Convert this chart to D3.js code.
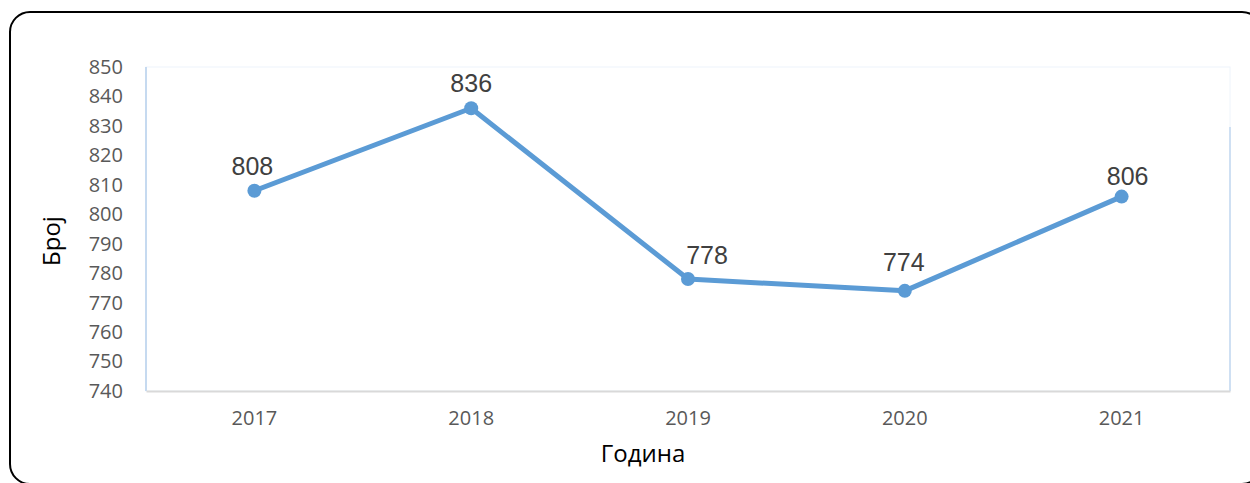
<!DOCTYPE html>
<html lang="sr">
<head>
<meta charset="UTF-8">
<script src="https://cdn.jsdelivr.net/npm/d3@7"></script>
<title>Број по години</title>
<style>
    body { margin: 0; background: #fff; }
    svg text { font-family: "Open Sans", sans-serif; }
</style>
</head>
<body>
<script>
    // data
    let years = ["2017", "2018", "2019", "2020", "2021"];
    let counts = [808, 836, 778, 774, 806];
    let yTicks = [740, 750, 760, 770, 780, 790, 800, 810, 820, 830, 840, 850];

    // label nudges (Excel places some labels a bit off-centre)
    var labelDx = [-2, 0, 19, -1, 6];
    var labelDy = [16, 16, 15, 20, 12];

    var width = 1250, height = 483;
    // plot area edges (don't use "top" - it's window.top)
    var plotL = 146, plotR = 1230, plotT = 67, plotB = 391;

    var svg = d3.select("body").append("svg")
        .attr("width", width)
        .attr("height", height);

    // outer rounded frame
    svg.append("rect")
        .attr("x", 10).attr("y", 12)
        .attr("width", 1252).attr("height", 472)
        .attr("rx", 20).attr("ry", 20)
        .attr("fill", "#fff")
        .attr("stroke", "#000")
        .attr("stroke-width", 2);

    var x = d3.scaleBand().domain(years).range([plotL, plotR]);
    var y = d3.scaleLinear().domain([740, 850]).range([plotB, plotT]);

    // plot area border
    svg.append("rect")
        .attr("x", plotL).attr("y", plotT)
        .attr("width", plotR - plotL).attr("height", plotB - plotT)
        .attr("fill", "none")
        .attr("stroke", "#eef4fb");
    svg.append("line")
        .attr("x1", plotL).attr("x2", plotL).attr("y1", plotT).attr("y2", plotB)
        .attr("stroke", "#c6daf0").attr("stroke-width", 2);
    svg.append("line")
        .attr("x1", plotR).attr("x2", plotR).attr("y1", plotT + 60).attr("y2", plotB)
        .attr("stroke", "#cfe0f3").attr("stroke-width", 2);

    // y axis
    var yAxis = svg.append("g")
        .attr("transform", "translate(" + plotL + ",0)")
        .call(d3.axisLeft(y).tickValues(yTicks).tickSize(0).tickPadding(23));
    yAxis.select(".domain").remove();
    yAxis.selectAll("text")
        .attr("fill", "#595959")
        .style("font-size", "20px")
        .style("font-family", "Open Sans, sans-serif");

    // x axis
    var xAxis = svg.append("g")
        .attr("transform", "translate(0," + plotB + ")")
        .call(d3.axisBottom(x).tickSize(0).tickPadding(20));
    xAxis.select(".domain").attr("stroke", "#d9d9d9").attr("stroke-width", 2);
    xAxis.selectAll("text")
        .attr("fill", "#595959")
        .style("font-size", "20px")
        .style("font-family", "Open Sans, sans-serif");

    // axis titles
    svg.append("text")
        .attr("transform", "translate(60,241) rotate(-90)")
        .attr("text-anchor", "middle")
        .attr("fill", "#000")
        .style("font-size", "24px")
        .text("Број");
    svg.append("text")
        .attr("x", 643).attr("y", 462)
        .attr("text-anchor", "middle")
        .attr("fill", "#000")
        .style("font-size", "24px")
        .text("Година");

    var pts = years.map(function(d, i) { return { year: d, value: counts[i], i: i }; });

    var line = d3.line()
        .x(function(d) { return x(d.year) + x.bandwidth() / 2; })
        .y(function(d) { return y(d.value); });

    svg.append("path")
        .datum(pts)
        .attr("d", line)
        .attr("fill", "none")
        .attr("stroke", "#5b9bd5")
        .attr("stroke-width", 5)
        .attr("stroke-linejoin", "round");

    svg.selectAll("circle.pt")
        .data(pts)
        .enter()
        .append("circle")
        .attr("class", "pt")
        .attr("cx", function(d) { return x(d.year) + x.bandwidth() / 2; })
        .attr("cy", function(d) { return y(d.value); })
        .attr("r", 7)
        .attr("fill", "#5b9bd5");

    svg.selectAll("text.lbl")
        .data(pts)
        .enter()
        .append("text")
        .attr("class", "lbl")
        .attr("x", function(d) { return x(d.year) + x.bandwidth() / 2 + labelDx[d.i]; })
        .attr("y", function(d) { return y(d.value) - labelDy[d.i]; })
        .attr("text-anchor", "middle")
        .attr("fill", "#404040")
        .style("font-family", "Liberation Sans, Arial, sans-serif")
        .style("font-size", "25px")
        .text(function(d) { return d.value; });
</script>
</body>
</html>
